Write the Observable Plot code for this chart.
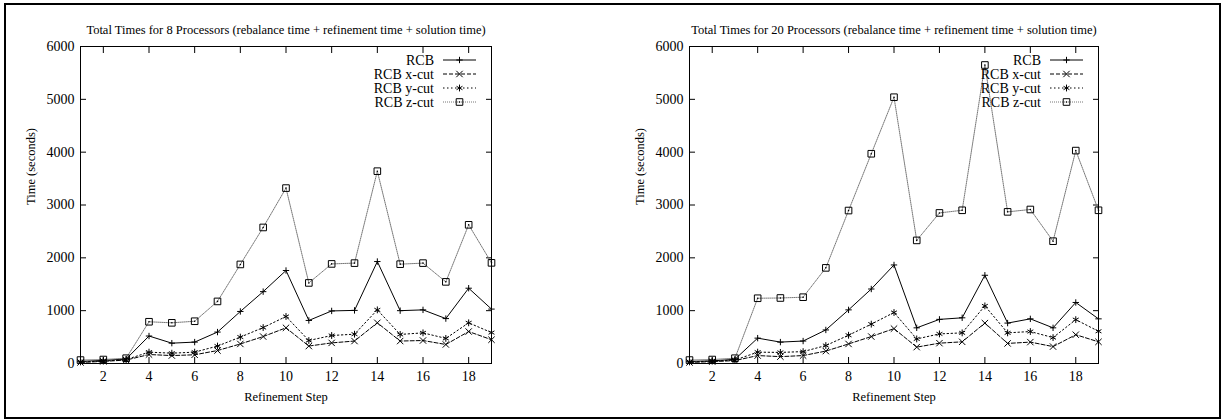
<!DOCTYPE html>
<html><head><meta charset="utf-8">
<script src="https://cdn.jsdelivr.net/npm/d3@7"></script>
<script src="https://cdn.jsdelivr.net/npm/@observablehq/plot@0.6"></script>
<style>
body{margin:0;background:#fff;width:1221px;height:420px;position:relative;overflow:hidden;font-family:"Liberation Serif",serif}
#border{position:absolute;left:4px;top:3px;width:1217px;height:416px;border:2px solid #000;box-sizing:border-box;pointer-events:none}
.panel{position:absolute;top:0}
.panel svg, .panel svg text{font-family:"Liberation Serif","Times New Roman",serif !important}
</style></head><body>
<div id="p1" class="panel" style="left:0"></div>
<div id="p2" class="panel" style="left:610px"></div>
<div id="border"></div>
<script>
// ---- data ----
const steps = [1,2,3,4,5,6,7,8,9,10,11,12,13,14,15,16,17,18,19];
const seriesNames = ["RCB", "RCB x-cut", "RCB y-cut", "RCB z-cut"];
const xTicks = [2,4,6,8,10,12,14,16,18];
const yTicks = [0,1000,2000,3000,4000,5000,6000];
const titles = [
  "Total Times for 8 Processors (rebalance time + refinement time + solution time)",
  "Total Times for 20 Processors (rebalance time + refinement time + solution time)"
];
const xLabel = "Refinement Step";
const yLabel = "Time (seconds)";

const p8_rcb = [40, 60, 85, 520, 385, 405, 595, 985, 1360, 1760, 815, 995, 1005, 1930, 1000, 1015, 850, 1425, 1030];
const p8_x   = [20, 40, 65, 170, 150, 165, 245, 370, 510, 675, 330, 390, 425, 770, 425, 435, 360, 605, 450];
const p8_y   = [30, 45, 75, 215, 195, 215, 330, 500, 680, 890, 435, 530, 555, 1015, 550, 580, 475, 770, 585];
const p8_z   = [65, 75, 100, 790, 770, 800, 1175, 1875, 2575, 3320, 1525, 1885, 1900, 3640, 1880, 1900, 1545, 2625, 1905];

const p20_rcb = [40, 50, 80, 480, 405, 425, 635, 1015, 1410, 1865, 675, 835, 865, 1670, 765, 845, 675, 1155, 845];
const p20_x   = [20, 35, 55, 150, 130, 150, 235, 370, 510, 660, 310, 385, 410, 765, 380, 405, 320, 545, 410];
const p20_y   = [30, 45, 65, 215, 210, 225, 340, 535, 745, 965, 465, 560, 580, 1090, 580, 605, 490, 830, 610];
const p20_z   = [65, 75, 100, 1235, 1240, 1255, 1810, 2895, 3970, 5040, 2330, 2850, 2900, 5650, 2870, 2915, 2315, 4030, 2900];

// ---- styles ----
const styles = [
  {stroke: "#000", dash: null, symbol: "plus", r: 2.2},
  {stroke: "#000", dash: "4,2", symbol: "times", r: 3},
  {stroke: "#000", dash: "1.5,2.5", symbol: "asterisk", r: 3.2},
  {stroke: "#777", dash: "1,1", symbol: "square2", r: 4.2}
];
const FONT = '"Liberation Serif", "Times New Roman", serif';

function panel(el, title, vals, width, ml, mr) {
  const rows = [];
  seriesNames.forEach((s, i) => vals[i].forEach((v, j) => rows.push({step: steps[j], time: v, series: s})));
  const marks = [
    Plot.axisX(xTicks, {anchor: "bottom", tickSize: -6, tickPadding: 14, fontSize: 14, fontFamily: FONT, label: null}),
    Plot.axisX(xTicks, {anchor: "top", tickSize: -6, tickFormat: () => "", label: null}),
    Plot.axisY(yTicks, {anchor: "left", tickSize: -6, tickPadding: 12, fontSize: 14, fontFamily: FONT, tickFormat: d => String(d), label: null}),
    Plot.axisY(yTicks, {anchor: "right", tickSize: -6, tickFormat: () => "", label: null}),
  ];
  styles.forEach((st, i) => {
    const d = rows.filter(r => r.series === seriesNames[i]);
    marks.push(Plot.line(d, {x: "step", y: "time", stroke: st.stroke, strokeWidth: 1, strokeDasharray: st.dash}));
  });
  styles.forEach((st, i) => {
    const d = rows.filter(r => r.series === seriesNames[i]);
    marks.push(Plot.dot(d, {x: "step", y: "time", symbol: st.symbol, r: st.r, stroke: "#000", strokeWidth: 1, fill: "none"}));
    if (st.symbol === "square2") marks.push(Plot.dot(d, {x: "step", y: "time", r: 0.8, fill: "#000"}));
  });
  marks.push(Plot.frame({stroke: "#000", strokeWidth: 1}));
  marks.push(Plot.text([title], {frameAnchor: "top", dy: -21, fontSize: 12.5, fontFamily: FONT, text: d => d}));
  marks.push(Plot.text([xLabel], {frameAnchor: "bottom", dy: 37, fontSize: 12.5, fontFamily: FONT, text: d => d}));
  marks.push(Plot.text([yLabel], {frameAnchor: "left", dx: -50, rotate: -90, fontSize: 12.5, fontFamily: FONT, text: d => d}));

  const chart = Plot.plot({
    width, height: 420,
    marginTop: 46, marginBottom: 57, marginLeft: ml, marginRight: mr,
    style: {fontFamily: FONT, background: "transparent", overflow: "visible", color: "#000"},
    x: {domain: [1, 19]},
    y: {domain: [0, 6000]},
    marks
  });
  el.appendChild(chart);

  // legend (top-right inside frame)
  const xr = chart.scale("x").range, yr = chart.scale("y").range;
  const right = xr[1], top = yr[1];
  const svg = d3.select(chart);
  const g = svg.append("g").attr("font-family", FONT).attr("font-size", 14);
  const sym = {plus: d3.symbolPlus, times: d3.symbolTimes, asterisk: d3.symbolAsterisk, square2: d3.symbolSquare2};
  seriesNames.forEach((s, i) => {
    const st = styles[i];
    const yy = top + 14 + 14 * i;
    g.append("text").attr("x", right - 57).attr("y", yy).attr("text-anchor", "end").attr("dy", "0.35em").text(s);
    g.append("line").attr("x1", right - 48).attr("x2", right - 15).attr("y1", yy).attr("y2", yy)
      .attr("stroke", st.stroke).attr("stroke-width", 1).attr("stroke-dasharray", st.dash);
    g.append("path").attr("transform", `translate(${right - 31.5},${yy})`)
      .attr("d", d3.symbol(sym[st.symbol], Math.PI * st.r * st.r)())
      .attr("fill", "none").attr("stroke", "#000").attr("stroke-width", 1);
    if (st.symbol === "square2") g.append("circle").attr("cx", right - 31.5).attr("cy", yy).attr("r", 0.8).attr("fill", "#000");
  });
}

panel(document.getElementById("p1"), titles[0], [p8_rcb, p8_x, p8_y, p8_z], 610, 80, 119);
panel(document.getElementById("p2"), titles[1], [p20_rcb, p20_x, p20_y, p20_z], 611, 79, 123);
</script></body></html>
